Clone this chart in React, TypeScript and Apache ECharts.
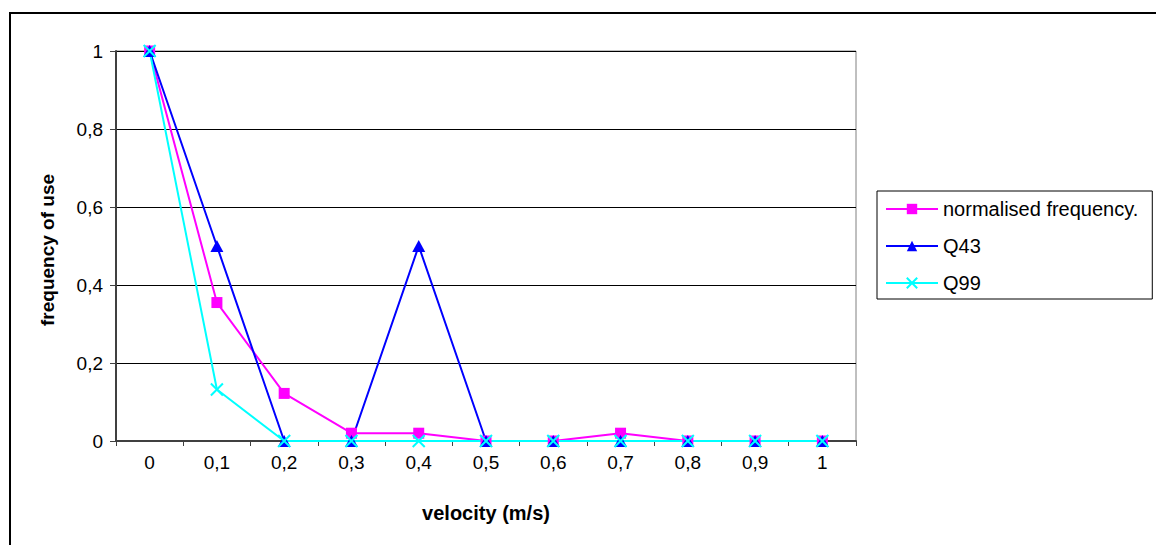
import React, { useEffect, useRef } from "react";
import * as echarts from "echarts";

const categories = ["0", "0,1", "0,2", "0,3", "0,4", "0,5", "0,6", "0,7", "0,8", "0,9", "1"];
const normalisedFrequency = [1, 0.355, 0.122, 0.02, 0.02, 0, 0, 0.02, 0, 0, 0];
const q43 = [1, 0.5, 0, 0, 0.5, 0, 0, 0, 0, 0, 0];
const q99 = [1, 0.132, 0, 0, 0, 0, 0, 0, 0, 0, 0];
const seriesNames = ["normalised frequency.", "Q43", "Q99"];

const FONT = "Arial, 'Liberation Sans', sans-serif";

export default function App() {
  const ref = useRef<HTMLDivElement>(null);
  useEffect(() => {
    if (!ref.current) return;
    const chart = echarts.init(ref.current, null, { renderer: "svg" });
    chart.setOption({
      animation: false,
      backgroundColor: "#ffffff",
      grid: { left: 116, top: 51, right: 300, bottom: 104, show: true, borderColor: "#808080", borderWidth: 1 },
      xAxis: {
        type: "category",
        data: categories,
        boundaryGap: true,
        axisLine: { lineStyle: { color: "#404040", width: 2 } },
        axisTick: { show: true, length: 5, lineStyle: { color: "#404040", width: 1 } },
        axisLabel: { color: "#000", fontSize: 19, fontFamily: FONT, margin: 12 },
        splitLine: { show: false },
      },
      yAxis: {
        type: "value",
        min: 0,
        max: 1,
        interval: 0.2,
        axisLine: { show: true, lineStyle: { color: "#404040", width: 2 } },
        axisTick: { show: true, length: 6, lineStyle: { color: "#404040" } },
        axisLabel: {
          color: "#000",
          fontSize: 19,
          fontFamily: FONT,
          margin: 13,
          formatter: (v: number) => String(Math.round(v * 10) / 10).replace(".", ","),
        },
        splitLine: { show: true, lineStyle: { color: "#000", width: 1 } },
      },
      legend: {
        orient: "vertical",
        left: 877,
        top: 191,
        data: seriesNames,
        backgroundColor: "#fff",
        borderColor: "#000",
        borderWidth: 1,
        padding: [8, 14, 6, 8],
        itemWidth: 52,
        itemHeight: 13,
        itemGap: 17,
        textStyle: { color: "#000", fontSize: 20, fontFamily: FONT },
      },
      graphic: [
        {
          type: "rect",
          shape: { x: 10, y: 13, width: 1200, height: 600 },
          style: { fill: "none", stroke: "#000", lineWidth: 2 },
          silent: true,
          z: -1,
        },
        {
          type: "text",
          x: 47,
          y: 250,
          rotation: Math.PI / 2,
          style: {
            text: "frequency of use",
            font: `bold 19px ${FONT}`,
            fill: "#000",
            align: "center",
            verticalAlign: "middle",
          },
        },
        {
          type: "text",
          x: 486,
          y: 513,
          style: {
            text: "velocity (m/s)",
            font: `bold 20px ${FONT}`,
            fill: "#000",
            align: "center",
            verticalAlign: "middle",
          },
        },
      ],
      series: [
        {
          name: seriesNames[0],
          type: "line",
          data: normalisedFrequency,
          symbol: "rect",
          symbolSize: 11,
          lineStyle: { color: "#ff00ff", width: 2 },
          itemStyle: { color: "#ff00ff" },
        },
        {
          name: seriesNames[1],
          type: "line",
          data: q43,
          symbol: "triangle",
          symbolSize: [13, 12],
          lineStyle: { color: "#0000ff", width: 2 },
          itemStyle: { color: "#0000ff" },
        },
        {
          name: seriesNames[2],
          type: "line",
          data: q99,
          symbol: "path://M0,0L10,10M10,0L0,10",
          symbolSize: 12,
          lineStyle: { color: "#00ffff", width: 2 },
          itemStyle: { color: "#00ffff", borderColor: "#00ffff", borderWidth: 2 },
        },
      ],
    });
    return () => chart.dispose();
  }, []);
  return (
    <div
      ref={ref}
      style={{ position: "absolute", left: 0, top: 0, width: 1156, height: 545 }}
    />
  );
}
